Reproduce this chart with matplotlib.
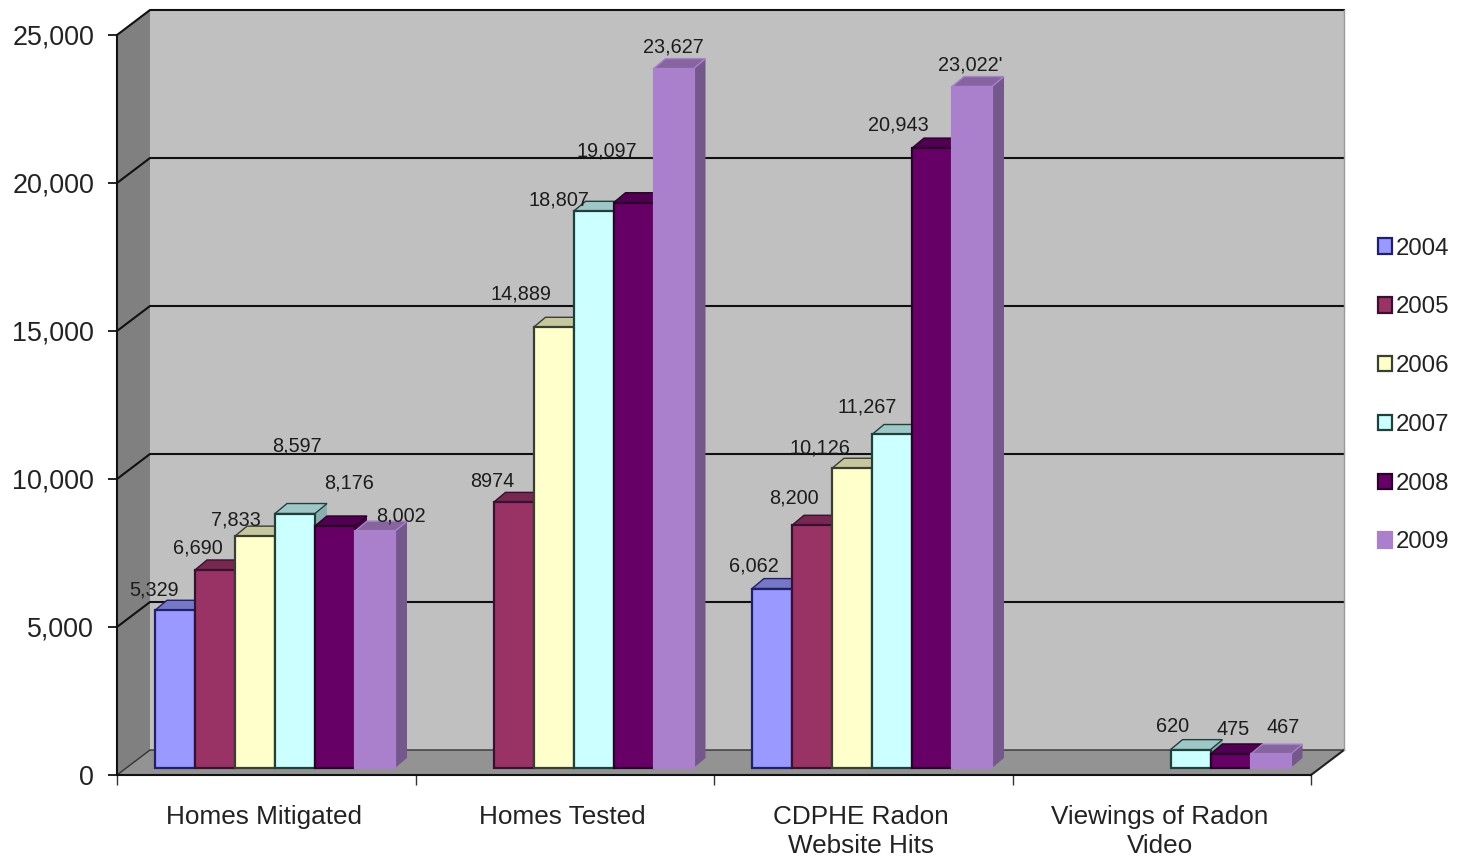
import numpy as np
import matplotlib
matplotlib.use('Agg')
import matplotlib.pyplot as plt
from matplotlib.patches import Patch
from matplotlib.colors import to_rgb

plt.rcParams['font.family'] = ['Liberation Sans', 'DejaVu Sans']

# Data
categories = ['Homes Mitigated', 'Homes Tested', 'CDPHE Radon\nWebsite Hits', 'Viewings of Radon\nVideo']
years = ['2004', '2005', '2006', '2007', '2008', '2009']
v2004 = [5329, np.nan, 6062, np.nan]
v2005 = [6690, 8974, 8200, np.nan]
v2006 = [7833, 14889, 10126, np.nan]
v2007 = [8597, 18807, 11267, 620]
v2008 = [8176, 19097, 20943, 475]
v2009 = [8002, 23627, 23022, 467]
series = [v2004, v2005, v2006, v2007, v2008, v2009]
label_text = [
    ['5,329', '', '6,062', ''],
    ['6,690', '8974', '8,200', ''],
    ['7,833', '14,889', '10,126', ''],
    ['8,597', '18,807', '11,267', '620'],
    ['8,176', '19,097', '20,943', '475'],
    ['8,002', '23,627', "23,022'", '467'],
]
y_ticks = [0, 5000, 10000, 15000, 20000, 25000]

# Styles
fill_colors = ['#9999FF', '#993366', '#FFFFCC', '#CCFFFF', '#660066', '#AA80CC']
edge_colors = ['#20206a', '#3a1030', '#3a4030', '#20403c', '#2a002a', '#AA80CC']
label_offsets = [
    [(-21, 20), None, (-18, 23), None],
    [(-17, 22), (-21, 21), (-18, 27), None],
    [(-19, 16), (-32, 33), (-32, 20), None],
    [(2, 68), (-35, 11), (-25, 27), (-18, 23)],
    [(14, 43), (-27, 52), (-34, 23), (3, 24)],
    [(26, 15), (0, 22), (-2, 22), (13, 27)],
]

W, H = 1464, 856
fig = plt.figure(figsize=(W / 100, H / 100), dpi=100, facecolor='white')
# front plane of the 3D box
left, right, top, bottom = 117, 1311, 35, 775
ax = fig.add_axes([left / W, 1 - bottom / H, (right - left) / W, (bottom - top) / H])
ax.set_xlim(0, 4)
ax.set_ylim(0, 25000)
ax.patch.set_visible(False)

# px to data
px = 4 / (right - left)
py = 25000 / (bottom - top)
dx, dy = 33 * px, 25 * py

# walls and floor
ax.fill([dx, 4 + dx, 4 + dx, dx], [dy, dy, 25000 + dy, 25000 + dy], color='#C0C0C0', lw=0, clip_on=False, zorder=1)
ax.fill([0, dx, dx, 0], [0, dy, 25000 + dy, 25000], color='#808080', lw=0, clip_on=False, zorder=1)
ax.fill([0, 4, 4 + dx, dx], [0, 0, dy, dy], color='#939393', lw=0, clip_on=False, zorder=1)

# gridlines on back wall, carried over the side wall
for t in y_ticks[1:]:
    ax.plot([0, dx, 4 + dx], [t, t + dy, t + dy], color='#111111', lw=1.5, clip_on=False, zorder=2)
ax.plot([0, dx, 4 + dx], [0, dy, dy], color='#333333', lw=1.0, clip_on=False, zorder=2)
ax.plot([4, 4 + dx], [0, dy], color='#222222', lw=1.5, clip_on=False, zorder=2)
ax.plot([4 + dx, 4 + dx], [dy, 25000 + dy], color='#999999', lw=1.0, clip_on=False, zorder=2)

# 3D bars
bar_w = 40 * px
start = 38 * px
base = 7 * py
depth_x, depth_y = 12 * px, 10 * py


def darker(c, f):
    return tuple(v * f for v in to_rgb(c))


z = 3
for c in range(len(categories)):
    for j, vals in enumerate(series):
        v = vals[c]
        if np.isnan(v):
            continue
        x0 = c + start + j * bar_w
        x1 = x0 + bar_w
        yb, yt = base, base + v
        ec = edge_colors[j]
        # side face, top face, then the front through ax.bar
        ax.fill([x1, x1 + depth_x, x1 + depth_x, x1], [yb, yb + depth_y, yt + depth_y, yt],
                facecolor=darker(fill_colors[j], 0.68), edgecolor='none', zorder=z, clip_on=False)
        ax.fill([x0, x0 + depth_x, x1 + depth_x, x1], [yt, yt + depth_y, yt + depth_y, yt],
                facecolor=darker(fill_colors[j], 0.78), edgecolor=ec, lw=1.0, zorder=z, clip_on=False)
        ax.bar(x0, v, width=bar_w, bottom=base, align='edge', color=fill_colors[j],
               edgecolor=ec, linewidth=1.6, zorder=z + 0.5, clip_on=False)
        z += 1

# value labels
for j, vals in enumerate(series):
    for c, v in enumerate(vals):
        if np.isnan(v):
            continue
        xc = c + start + (j + 0.5) * bar_w
        ax.annotate(label_text[j][c], (xc, base + v), xytext=label_offsets[j][c],
                    textcoords='offset pixels', ha='center', va='center',
                    fontsize=14.3, color='#1c1c1c', zorder=100, annotation_clip=False)

# axes
for s in ['top', 'right']:
    ax.spines[s].set_visible(False)
for s in ['left', 'bottom']:
    ax.spines[s].set_linewidth(1.5)
    ax.spines[s].set_color('#111111')
    ax.spines[s].set_zorder(50)

ax.set_yticks(y_ticks)
ax.set_yticklabels([f'{t:,}' for t in y_ticks])
ax.tick_params(axis='y', length=6.5, width=1.2, pad=10, labelsize=19.4, labelcolor='#222222')
ax.set_xticks(range(5))
ax.set_xticklabels([])
ax.tick_params(axis='x', which='major', length=7, width=1.0, color='#333333')
ax.set_xticks(np.arange(4) + 0.493, minor=True)
ax.set_xticklabels(categories, minor=True, fontsize=18.8, color='#222222', linespacing=1.24)
ax.tick_params(axis='x', which='minor', length=0, pad=21.7)

# legend
handles = [Patch(facecolor=fill_colors[j], edgecolor=edge_colors[j], linewidth=1.6, label=years[j])
           for j in range(len(years))]
fig.legend(handles=handles, loc='center left', bbox_to_anchor=(1378 / W, 1 - 395.5 / H),
           frameon=False, fontsize=17.3, labelspacing=1.53, handlelength=0.6, handleheight=0.6,
           handletextpad=0.15, borderpad=0, borderaxespad=0, labelcolor='#222222')

fig.savefig('out.png', dpi=100)
